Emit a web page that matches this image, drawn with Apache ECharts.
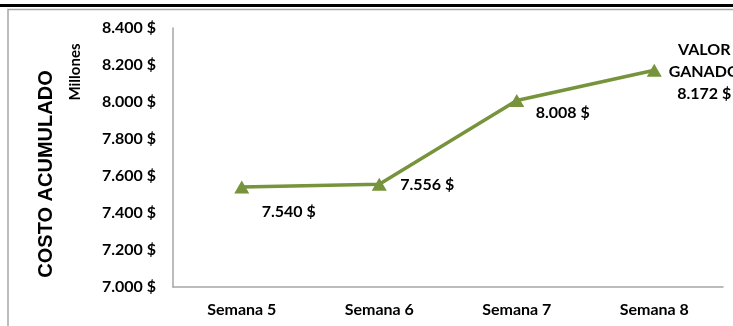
<!DOCTYPE html>
<html>
<head>
<meta charset="utf-8">
<script src="https://cdn.jsdelivr.net/npm/echarts@6/dist/echarts.min.js"></script>
<style>
  html, body { margin: 0; padding: 0; background: #fff; }
  #chart { width: 733px; height: 326px; }
</style>
</head>
<body>
<div id="chart"></div>
<script>
// Weekly accumulated cost (millions)
const weeks = ['Semana 5', 'Semana 6', 'Semana 7', 'Semana 8'];
const costValues = [7540, 7556, 8008, 8172];
const yTicks = { min: 7000, max: 8400, step: 200 };

const GREEN = '#77933C';
const FONT = 'Lato, "Open Sans", sans-serif';
const FS = 16;

function money(v) {
  return String(v).replace(/\B(?=(\d{3})+(?!\d))/g, '.') + ' $';
}

// per-point label placement
const labelOffsets = [[47, 25], [48, 1], [46, 12], [50, 2]];

const chart = echarts.init(document.getElementById('chart'), null, { renderer: 'canvas' });

chart.setOption({
  animation: false,
  backgroundColor: '#fff',
  grid: { left: 173, right: 10, top: 28, bottom: 39, containLabel: false },
  xAxis: {
    type: 'category',
    data: weeks,
    boundaryGap: true,
    axisLine: { lineStyle: { color: '#A6A6A6', width: 1.5 } },
    axisTick: { show: false },
    axisLabel: { margin: 15, color: '#000', fontFamily: FONT, fontWeight: 'bold', fontSize: FS }
  },
  yAxis: {
    type: 'value',
    min: yTicks.min, max: yTicks.max, interval: yTicks.step,
    splitLine: { show: false },
    axisLine: { show: true, lineStyle: { color: '#A6A6A6', width: 1.5 } },
    axisTick: { show: false },
    axisLabel: {
      margin: 17, color: '#000', fontFamily: FONT, fontWeight: 'bold', fontSize: FS,
      formatter: money
    }
  },
  series: [{
    type: 'line',
    data: costValues.map((v, i) => ({
      value: v,
      label: {
        show: true,
        position: 'inside',
        offset: labelOffsets[i],
        color: '#000', fontFamily: FONT, fontWeight: 'bold', fontSize: FS,
        align: 'center', lineHeight: 22,
        formatter: i === costValues.length - 1
          ? 'VALOR\nGANADO\n' + money(v)
          : money(v)
      }
    })),
    symbol: 'triangle',
    symbolSize: [15, 13],
    itemStyle: { color: GREEN },
    lineStyle: { color: GREEN, width: 3.5 }
  }],
  graphic: [
    { type: 'rect', shape: { x: 0, y: 4, width: 733, height: 3 }, style: { fill: '#000' } },
    { type: 'polyline', shape: { points: [[8, 340], [8, 9.5], [740, 9.5]] },
      style: { stroke: '#A6A6A6', lineWidth: 1.5, fill: null } },
    { type: 'text', x: 46, y: 174, rotation: Math.PI / 2,
      style: { text: 'COSTO ACUMULADO', fill: '#000', font: 'bold 20px "Liberation Sans", Arial, sans-serif',
               align: 'center', verticalAlign: 'middle' } },
    { type: 'text', x: 75, y: 72, rotation: Math.PI / 2,
      style: { text: 'Millones', fill: '#000', font: 'bold 15px ' + FONT,
               align: 'center', verticalAlign: 'middle' } }
  ]
});
</script>
</body>
</html>
